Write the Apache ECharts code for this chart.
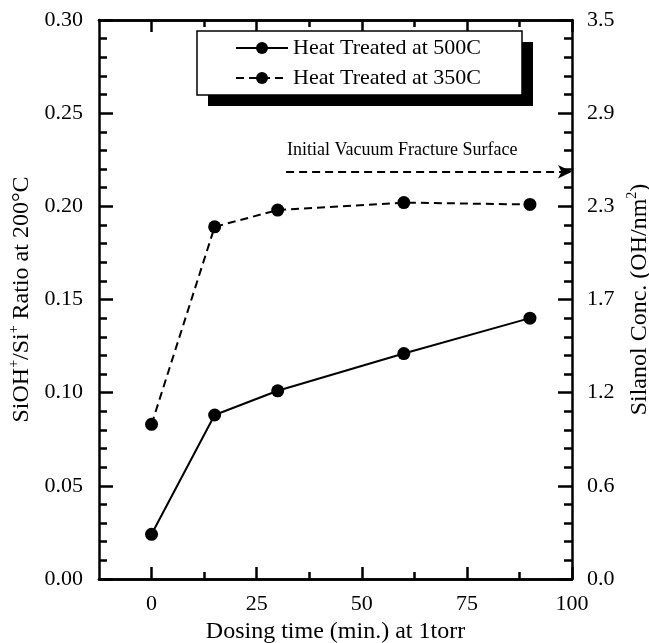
<!DOCTYPE html>
<html>
<head>
<meta charset="utf-8">
<script src="https://cdn.jsdelivr.net/npm/echarts@6/dist/echarts.min.js"></script>
<style>
  html, body { margin: 0; padding: 0; background: #fff; }
  #chart { width: 649px; height: 643px; }
</style>
</head>
<body>
<div id="chart"></div>
<script>
// data
const dosingTimes = [0, 15, 30, 60, 90];
const ratio500 = [0.024, 0.088, 0.101, 0.121, 0.140];
const ratio350 = [0.083, 0.189, 0.198, 0.202, 0.201];
const xMajorTicks = [0, 25, 50, 75, 100];
const xMinorTicks = [12.5, 37.5, 62.5, 87.5];
const rightTickLabels = ["0.0", "0.6", "1.2", "1.7", "2.3", "2.9", "3.5"];
const fractureLevel = 2.55; // silanol conc., right axis
const fractureStart = 32;

const FONT = "Liberation Serif";
const RIGHT_MAX = 3.5;
const RIGHT_STEP = RIGHT_MAX / 6;

const chart = echarts.init(document.getElementById("chart"));

const frameLine = { show: true, onZero: false, lineStyle: { color: "#000", width: 2.5 } };
const noLabel = { show: false };

function xAxisOf(position, ticks, len, showLabel) {
  return {
    type: "value",
    position: position,
    min: -12.5,
    max: 100,
    axisLine: frameLine,
    splitLine: { show: false },
    axisTick: {
      show: true,
      inside: true,
      length: len,
      customValues: ticks,
      lineStyle: { color: "#000", width: 2.5 },
    },
    axisLabel: showLabel
      ? { show: true, customValues: ticks, fontFamily: FONT, fontSize: 22, color: "#000", margin: 14 }
      : noLabel,
  };
}

const bottomAxis = xAxisOf("bottom", xMajorTicks, 12, true);
bottomAxis.name = "Dosing time (min.) at 1torr";
bottomAxis.nameLocation = "middle";
bottomAxis.nameGap = 40;
bottomAxis.nameTextStyle = { fontFamily: FONT, fontSize: 24, color: "#000" };

// rich text for the rotated axis titles (superscripts)
const titleRich = {
  t: { fontFamily: FONT, fontSize: 24, color: "#000", lineHeight: 28 },
  s: { fontFamily: FONT, fontSize: 14, color: "#000", lineHeight: 14, verticalAlign: "top" },
};

chart.setOption({
  backgroundColor: "#fff",
  animation: false,
  grid: { left: 99, right: 77, top: 20, bottom: 64, containLabel: false, outerBoundsMode: "none" },
  graphic: [
    // legend frame with its offset solid shadow
    { type: "rect", z: 1, shape: { x: 208, y: 42, width: 325, height: 64 }, style: { fill: "#000" } },
    { type: "rect", z: 2, shape: { x: 197, y: 31, width: 325, height: 64 }, style: { fill: "#fff", stroke: "#000", lineWidth: 1.5 } },
  ],
  legend: {
    data: ["Heat Treated at 500C", "Heat Treated at 350C"],
    orient: "vertical",
    left: 197,
    top: 31,
    z: 10,
    itemWidth: 52,
    itemHeight: 15,
    itemGap: 8,
    padding: [6, 0, 6, 38],
    textStyle: { fontFamily: FONT, fontSize: 22, color: "#000" },
  },
  xAxis: [
    bottomAxis,
    xAxisOf("bottom", xMinorTicks, 7, false),
    xAxisOf("top", xMajorTicks, 12, false),
    xAxisOf("top", xMinorTicks, 7, false),
  ],
  yAxis: [
    {
      type: "value",
      position: "left",
      min: 0,
      max: 0.3,
      interval: 0.05,
      name: "{t|SiOH}{s|+}{t|/Si}{s|+}{t| Ratio at 200°C}",
      nameLocation: "middle",
      nameRotate: 90,
      nameGap: 62,
      nameTextStyle: { color: "#000", rich: titleRich },
      axisLine: frameLine,
      splitLine: { show: false },
      axisTick: { inside: true, length: 14, lineStyle: { color: "#000", width: 2.5 } },
      minorTick: { show: true, splitNumber: 5, length: 8, lineStyle: { color: "#000", width: 2.5 } },
      axisLabel: {
        fontFamily: FONT, fontSize: 22, color: "#000", margin: 16,
        formatter: (v) => v.toFixed(2),
      },
    },
    {
      type: "value",
      position: "right",
      min: 0,
      max: RIGHT_MAX,
      interval: RIGHT_STEP,
      name: "{t|Silanol Conc. (OH/nm}{s|2}{t|)}",
      nameLocation: "middle",
      nameRotate: 90,
      nameGap: 46,
      nameTextStyle: { color: "#000", rich: titleRich },
      axisLine: frameLine,
      splitLine: { show: false },
      axisTick: { inside: true, length: 14, lineStyle: { color: "#000", width: 2.5 } },
      minorTick: { show: true, splitNumber: 5, length: 8, lineStyle: { color: "#000", width: 2.5 } },
      axisLabel: {
        fontFamily: FONT, fontSize: 22, color: "#000", margin: 15,
        formatter: (v) => rightTickLabels[Math.round(v / RIGHT_STEP)],
      },
    },
  ],
  series: [
    {
      name: "Heat Treated at 500C",
      type: "line",
      data: dosingTimes.map((t, i) => [t, ratio500[i]]),
      symbol: "circle",
      symbolSize: 13,
      itemStyle: { color: "#000" },
      lineStyle: { color: "#000", width: 2, type: "solid" },
    },
    {
      name: "Heat Treated at 350C",
      type: "line",
      data: dosingTimes.map((t, i) => [t, ratio350[i]]),
      symbol: "circle",
      symbolSize: 13,
      itemStyle: { color: "#000" },
      lineStyle: { color: "#000", width: 2, type: [8, 5] },
    },
    {
      name: "annotation",
      type: "line",
      yAxisIndex: 1,
      data: [],
      markLine: {
        silent: true,
        symbol: ["none", "arrow"],
        symbolSize: [10, 14],
        lineStyle: { color: "#000", width: 2, type: [8, 5] },
        label: {
          show: true,
          position: "insideStartTop",
          formatter: "Initial Vacuum Fracture Surface",
          fontFamily: FONT,
          fontSize: 18,
          color: "#000",
          distance: [1, 12],
        },
        data: [[{ coord: [fractureStart, fractureLevel] }, { coord: [100, fractureLevel] }]],
      },
    },
  ],
});
</script>
</body>
</html>
